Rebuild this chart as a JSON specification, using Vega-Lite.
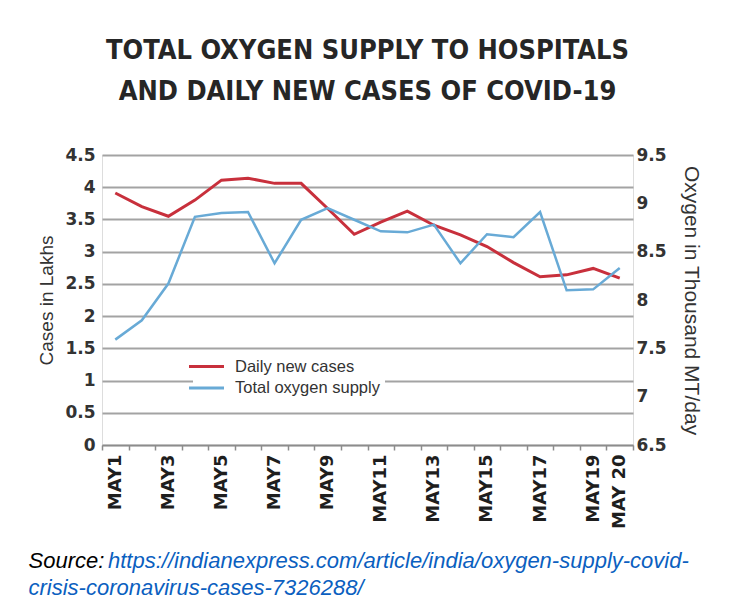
{
  "$schema": "https://vega.github.io/schema/vega-lite/v6.json",
  "width": 531,
  "height": 290,
  "autosize": {"type": "none"},
  "padding": {"left": 102, "top": 155, "right": 96, "bottom": 170},
  "background": "white",
  "title": {
    "text": ["TOTAL OXYGEN SUPPLY TO HOSPITALS", "AND DAILY NEW CASES OF COVID-19"],
    "anchor": "middle",
    "font": "Liberation Sans Narrow, DejaVu Sans Condensed, Liberation Sans",
    "fontSize": 27,
    "fontWeight": "bold",
    "color": "#262626",
    "lineHeight": 41,
    "offset": 40
  },
  "data": {
    "values": [
      {"day": 1, "series": "Daily new cases", "value": 3.91},
      {"day": 2, "series": "Daily new cases", "value": 3.70},
      {"day": 3, "series": "Daily new cases", "value": 3.55},
      {"day": 4, "series": "Daily new cases", "value": 3.80},
      {"day": 5, "series": "Daily new cases", "value": 4.11},
      {"day": 6, "series": "Daily new cases", "value": 4.14},
      {"day": 7, "series": "Daily new cases", "value": 4.06},
      {"day": 8, "series": "Daily new cases", "value": 4.06},
      {"day": 9, "series": "Daily new cases", "value": 3.67},
      {"day": 10, "series": "Daily new cases", "value": 3.27},
      {"day": 11, "series": "Daily new cases", "value": 3.46},
      {"day": 12, "series": "Daily new cases", "value": 3.63},
      {"day": 13, "series": "Daily new cases", "value": 3.41},
      {"day": 14, "series": "Daily new cases", "value": 3.26},
      {"day": 15, "series": "Daily new cases", "value": 3.08},
      {"day": 16, "series": "Daily new cases", "value": 2.83},
      {"day": 17, "series": "Daily new cases", "value": 2.61},
      {"day": 18, "series": "Daily new cases", "value": 2.64},
      {"day": 19, "series": "Daily new cases", "value": 2.74},
      {"day": 20, "series": "Daily new cases", "value": 2.59},
      {"day": 1, "series": "Total oxygen supply", "value": 7.59},
      {"day": 2, "series": "Total oxygen supply", "value": 7.79},
      {"day": 3, "series": "Total oxygen supply", "value": 8.17},
      {"day": 4, "series": "Total oxygen supply", "value": 8.86},
      {"day": 5, "series": "Total oxygen supply", "value": 8.90},
      {"day": 6, "series": "Total oxygen supply", "value": 8.91},
      {"day": 7, "series": "Total oxygen supply", "value": 8.38},
      {"day": 8, "series": "Total oxygen supply", "value": 8.83},
      {"day": 9, "series": "Total oxygen supply", "value": 8.95},
      {"day": 10, "series": "Total oxygen supply", "value": 8.83},
      {"day": 11, "series": "Total oxygen supply", "value": 8.71},
      {"day": 12, "series": "Total oxygen supply", "value": 8.70},
      {"day": 13, "series": "Total oxygen supply", "value": 8.78},
      {"day": 14, "series": "Total oxygen supply", "value": 8.38},
      {"day": 15, "series": "Total oxygen supply", "value": 8.68},
      {"day": 16, "series": "Total oxygen supply", "value": 8.65},
      {"day": 17, "series": "Total oxygen supply", "value": 8.91},
      {"day": 18, "series": "Total oxygen supply", "value": 8.10},
      {"day": 19, "series": "Total oxygen supply", "value": 8.11},
      {"day": 20, "series": "Total oxygen supply", "value": 8.33}
    ]
  },
  "layer": [
    {
      "transform": [{"filter": "datum.series == 'Daily new cases'"}],
      "mark": {"type": "line", "strokeWidth": 3},
      "encoding": {
        "x": {
          "field": "day",
          "type": "ordinal",
          "bandPosition": 0.5,
          "scale": {"type": "band", "paddingInner": 0, "paddingOuter": 0},
          "axis": {
            "orient": "bottom",
            "tickBand": "extent",
            "grid": false,
            "domainColor": "#8c8c8c",
            "domainWidth": 1.5,
            "tickColor": "#8c8c8c",
            "tickWidth": 1.5,
            "tickSize": 5,
            "labelAngle": 270,
            "labelAlign": "right",
            "labelBaseline": "middle",
            "labelPadding": 4,
            "labelOverlap": false,
            "labelFont": "DejaVu Sans",
            "labelFontWeight": "bold",
            "labelFontSize": 18,
            "labelColor": "#1e1e1e",
            "labelExpr": "datum.value == 20 ? 'MAY 20' : (datum.value % 2 == 1 ? 'MAY' + datum.value : '')",
            "title": "Source:",
            "titleX": -74,
            "titleY": 122,
            "titleAlign": "left",
            "titleBaseline": "alphabetic",
            "titleAngle": 0,
            "titleFont": "Liberation Sans",
            "titleFontStyle": "italic",
            "titleFontWeight": "normal",
            "titleFontSize": 22,
            "titleColor": "#000000"
          }
        },
        "y": {
          "field": "value",
          "type": "quantitative",
          "scale": {"domain": [0, 4.5], "nice": false},
          "axis": {
            "orient": "left",
            "values": [0, 0.5, 1, 1.5, 2, 2.5, 3, 3.5, 4, 4.5],
            "grid": true,
            "gridColor": "#a3a3a3",
            "gridWidth": 1.8,
            "domain": false,
            "ticks": false,
            "labelPadding": 7,
            "labelFont": "DejaVu Sans",
            "labelFontWeight": "bold",
            "labelFontSize": 17,
            "labelColor": "#333333",
            "labelExpr": "'' + datum.value",
            "title": "Cases in Lakhs",
            "titleFont": "Liberation Sans",
            "titleFontSize": 19,
            "titleFontWeight": "normal",
            "titleColor": "#333333",
            "titlePadding": 8
          }
        },
        "color": {
          "field": "series",
          "type": "nominal",
          "scale": {"domain": ["Daily new cases", "Total oxygen supply"], "range": ["#c8303c", "#68aad6"]},
          "legend": {
            "title": null,
            "orient": "none",
            "legendX": 91,
            "legendY": 198,
            "padding": 5,
            "fillColor": "white",
            "symbolType": "M-2.5,0H2.5",
            "symbolSize": 196,
            "symbolStrokeWidth": 3,
            "labelOffset": 20,
            "rowPadding": 4.6,
            "labelFont": "Liberation Sans",
            "labelFontSize": 16.5,
            "labelColor": "#333333"
          }
        }
      }
    },
    {
      "transform": [{"filter": "datum.series == 'Total oxygen supply'"}],
      "mark": {"type": "line", "strokeWidth": 2.5},
      "encoding": {
        "x": {
          "field": "day",
          "type": "ordinal",
          "bandPosition": 0.5,
          "scale": {"type": "band", "paddingInner": 0, "paddingOuter": 0},
          "axis": {
            "orient": "bottom",
            "domain": false,
            "ticks": false,
            "labels": false,
            "grid": false,
            "title": ["\u200d\u00a0\u00a0\u00a0\u00a0\u00a0\u00a0\u00a0\u00a0\u00a0\u00a0\u00a0\u00a0\u00a0https://indianexpress.com/article/india/oxygen-supply-covid-", "crisis-coronavirus-cases-7326288/"],
            "titleX": -74,
            "titleY": 122,
            "titleAlign": "left",
            "titleBaseline": "alphabetic",
            "titleAngle": 0,
            "titleLineHeight": 27,
            "titleFont": "Liberation Sans",
            "titleFontStyle": "italic",
            "titleFontWeight": "normal",
            "titleFontSize": 22,
            "titleColor": "#0b5fc0"
          }
        },
        "y": {
          "field": "value",
          "type": "quantitative",
          "scale": {"domain": [6.5, 9.5], "nice": false},
          "axis": {
            "orient": "right",
            "values": [6.5, 7, 7.5, 8, 8.5, 9, 9.5],
            "grid": false,
            "domain": false,
            "ticks": false,
            "labelPadding": 3,
            "labelFont": "DejaVu Sans",
            "labelFontWeight": "bold",
            "labelFontSize": 17,
            "labelColor": "#333333",
            "labelExpr": "'' + datum.value",
            "title": "Oxygen in Thousand MT/day",
            "titleFont": "Liberation Sans",
            "titleFontSize": 21,
            "titleFontWeight": "normal",
            "titleColor": "#333333",
            "titlePadding": 14
          }
        },
        "color": {"field": "series", "type": "nominal"}
      }
    }
  ],
  "resolve": {"scale": {"y": "independent"}, "axis": {"x": "independent"}}
}
